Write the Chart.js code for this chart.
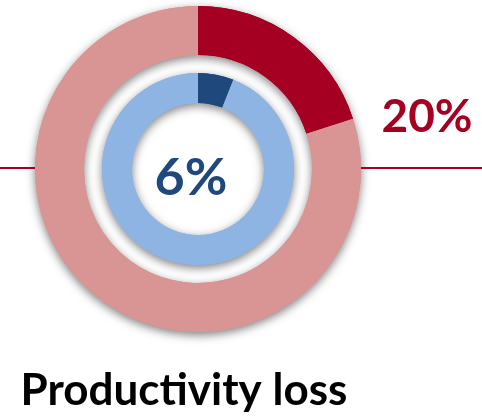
<!DOCTYPE html>
<html>
<head>
<meta charset="utf-8">
<script src="https://cdn.jsdelivr.net/npm/chart.js@4/dist/chart.umd.min.js"></script>
<style>
  html, body { margin: 0; padding: 0; background: #fff; }
  #wrap { width: 482px; height: 417px; position: relative; }
</style>
</head>
<body>
<div id="wrap"><canvas id="rings"></canvas></div>
<script>
// Valores dos dois anéis (percentual)
const outerValues = [20, 80];
const innerValues = [6, 94];
const outerColors = ['#A50021', '#D99594'];
const innerColors = ['#1F497D', '#8EB4E3'];
const title = 'Productivity loss';

const darkRed = '#A50021';
const darkBlue = '#1F497D';
const fontFamily = 'Lato, "Open Sans", sans-serif';

// Sombra: cada anel é desenhado uma vez com sombra e depois por cima sem sombra
const shadowPlugin = {
    id: 'ringShadow',
    beforeDatasetDraw(chart, args) {
        if (args.meta.controller.getDataset().spacer) return;
        const ctx = chart.ctx;
        ctx.save();
        ctx.shadowColor = 'rgba(0,0,0,0.5)';
        ctx.shadowBlur = 10;
        ctx.shadowOffsetX = 0;
        ctx.shadowOffsetY = 3;
        args.meta.data.forEach(arc => arc.draw(ctx));
        ctx.restore();
    }
};

// Linhas horizontais e textos
const labelsPlugin = {
    id: 'ringLabels',
    afterDraw(chart) {
        const ctx = chart.ctx;
        const arc = chart.getDatasetMeta(0).data[0];
        const cx = arc.x, cy = arc.y, r = arc.outerRadius;
        ctx.save();

        ctx.strokeStyle = darkRed;
        ctx.lineWidth = 2;
        ctx.beginPath();
        ctx.moveTo(0, cy - 1);
        ctx.lineTo(cx - r, cy - 1);
        ctx.moveTo(cx + r, cy - 1);
        ctx.lineTo(chart.width, cy - 1);
        ctx.stroke();

        ctx.textAlign = 'center';
        ctx.textBaseline = 'alphabetic';

        ctx.fillStyle = darkRed;
        ctx.font = 'bold 46px ' + fontFamily;
        ctx.fillText(outerValues[0] + '%', 427, 132);

        ctx.fillStyle = darkBlue;
        ctx.font = 'bold 52px ' + fontFamily;
        ctx.fillText(innerValues[0] + '%', cx - 7, 195);

        ctx.fillStyle = '#000';
        ctx.font = 'bold 44px ' + fontFamily;
        ctx.fillText(title, 184, 405);
        ctx.restore();
    }
};

new Chart(document.getElementById('rings'), {
    type: 'doughnut',
    data: {
        datasets: [
            { data: outerValues, backgroundColor: outerColors, weight: 49 },
            { data: [1], backgroundColor: 'rgba(0,0,0,0)', weight: 18, spacer: true },
            { data: innerValues, backgroundColor: innerColors, weight: 30 }
        ]
    },
    options: {
        responsive: true,
        maintainAspectRatio: false,
        animation: false,
        radius: 163,
        cutout: '40.5%',
        borderWidth: 0,
        hoverOffset: 0,
        layout: { padding: { left: 0, right: 86, top: 0, bottom: 79 } },
        plugins: {
            legend: { display: false },
            tooltip: { enabled: false }
        },
        events: []
    },
    plugins: [shadowPlugin, labelsPlugin]
});
</script>
</body>
</html>
